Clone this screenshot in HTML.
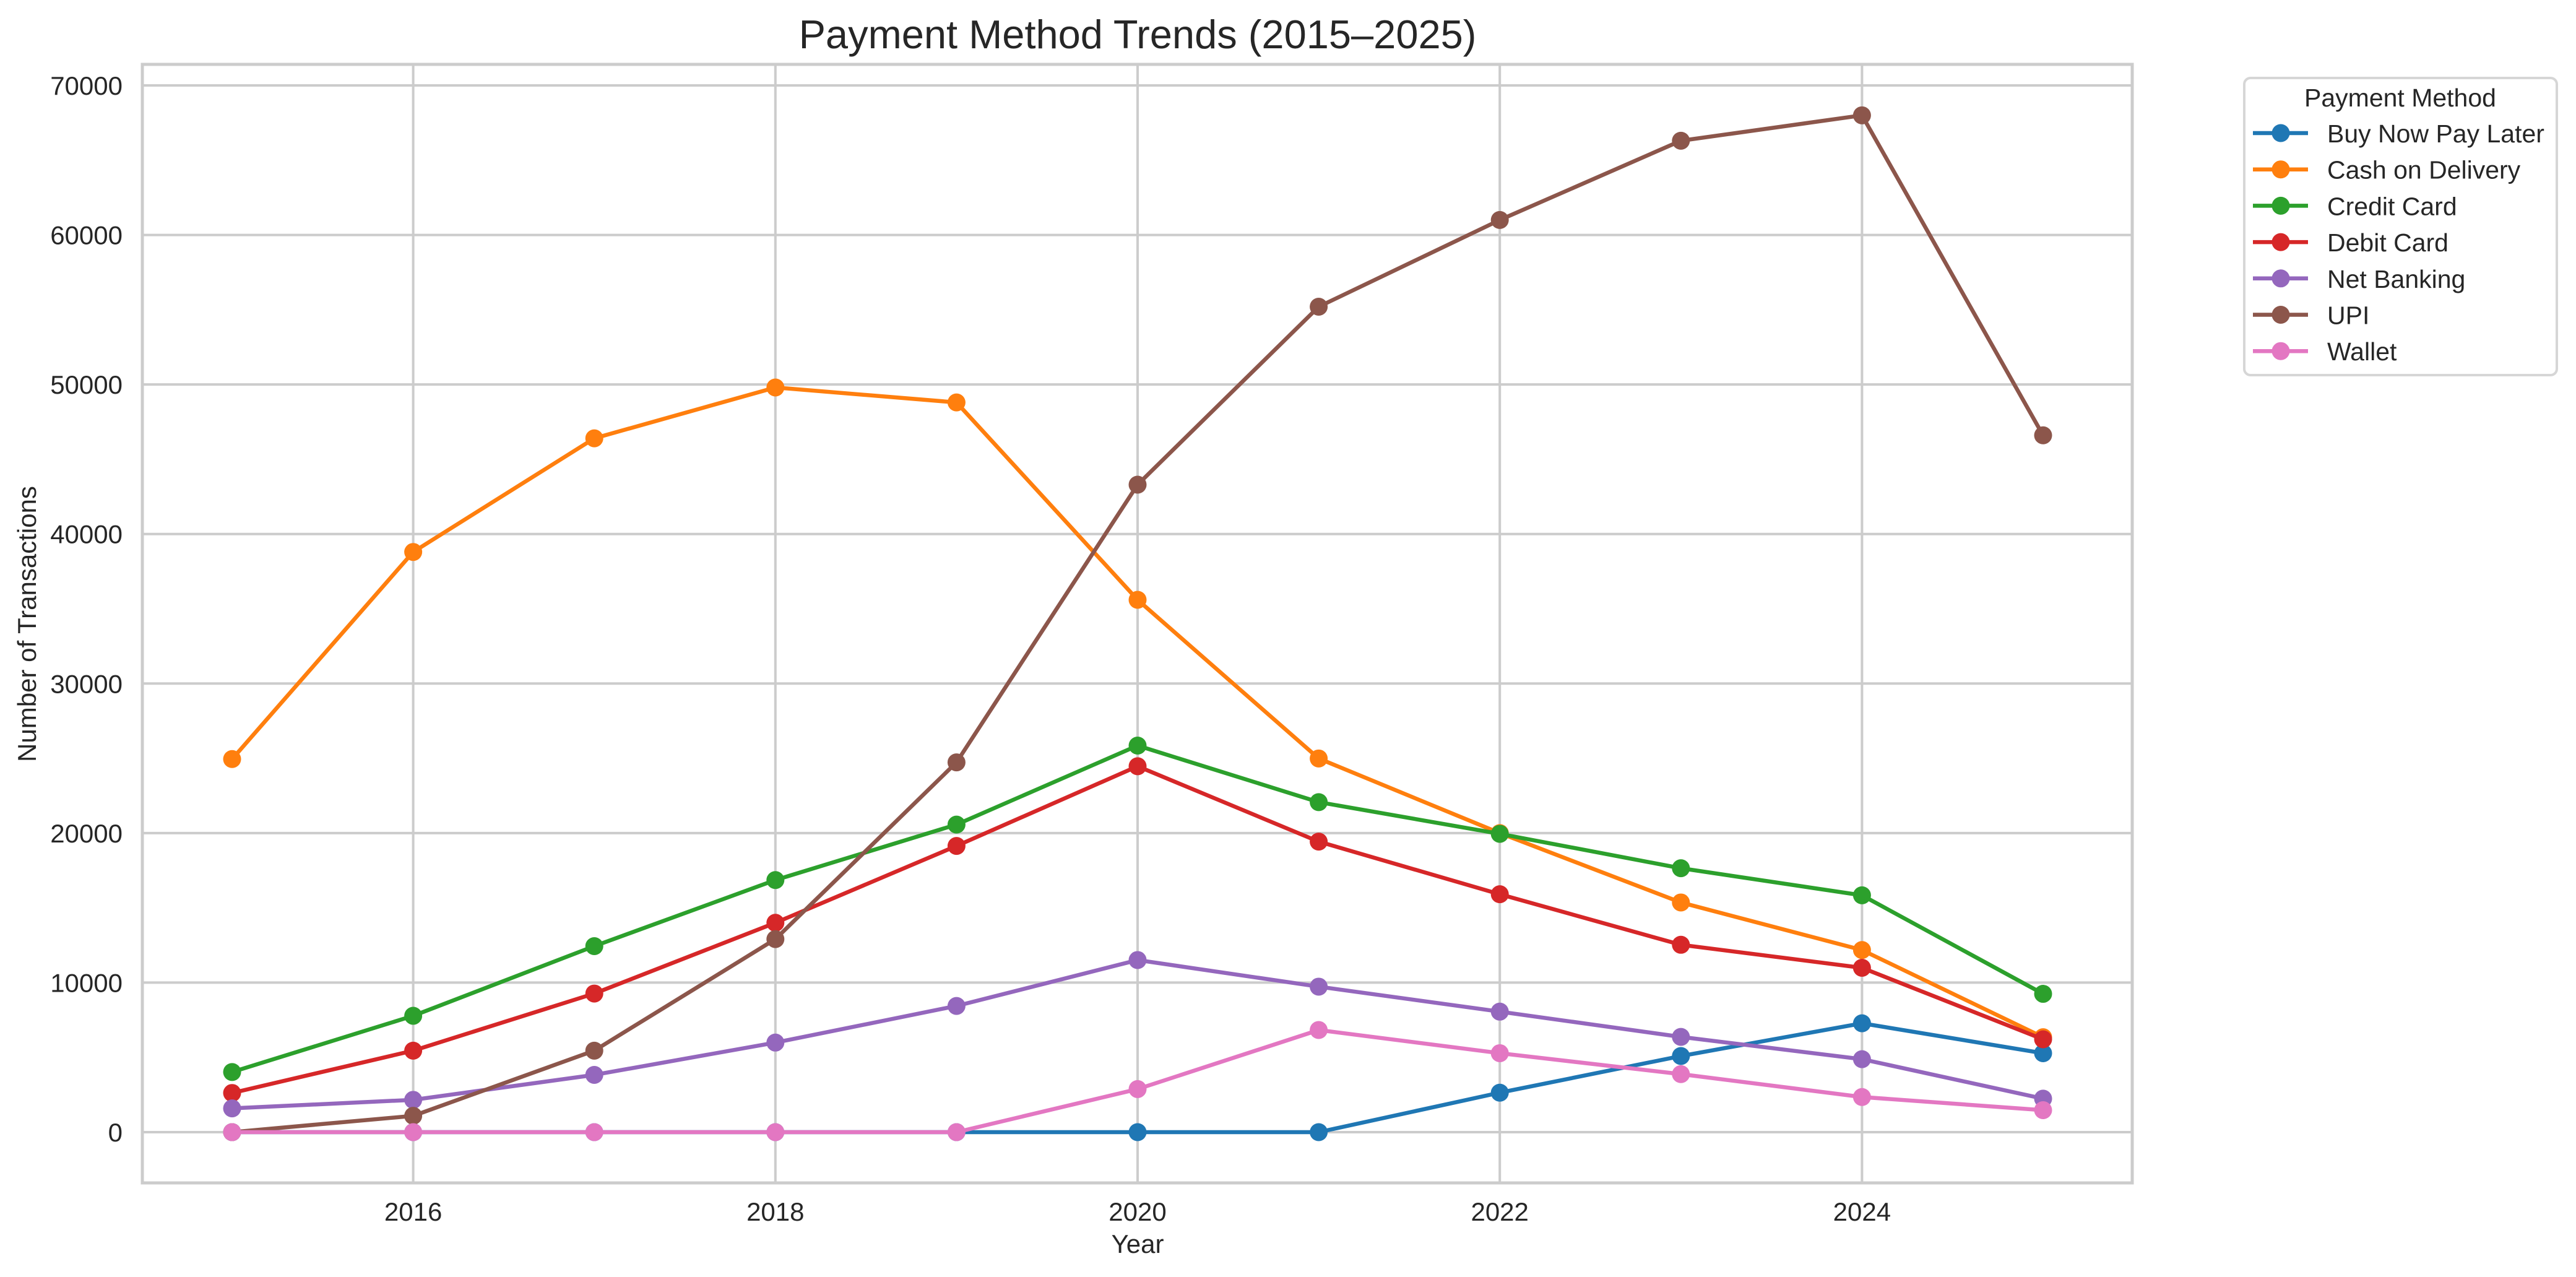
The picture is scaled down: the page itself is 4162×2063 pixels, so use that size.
<!DOCTYPE html>
<html><head><meta charset="utf-8"><style>
html,body{margin:0;padding:0;background:#fff;}
svg{display:block;font-family:"Liberation Sans",Arial,sans-serif;}
</style></head><body>
<svg id="chart" width="4162" height="2063" viewBox="0 0 4162 2063" xmlns="http://www.w3.org/2000/svg">
<rect width="4162" height="2063" fill="#fff"/>
<g id="grid"></g>
<g id="series"></g>
<rect x="230" y="104" width="3215" height="1807" fill="none" stroke="#cccccc" stroke-width="5"/>
<g id="ticks"></g>
<text x="1838" y="78" font-size="65" text-anchor="middle" fill="#262626">Payment Method Trends (2015–2025)</text>
<text x="1838" y="2024" font-size="42" text-anchor="middle" fill="#262626">Year</text>
<text x="58" y="1008" font-size="42" text-anchor="middle" fill="#262626" transform="rotate(-90 58 1008)">Number of Transactions</text>
<g id="legend">
<rect x="3626" y="126" width="505" height="480" rx="10" fill="#fff" stroke="#d6d6d6" stroke-width="4"/>
<text x="3878" y="172" font-size="41" text-anchor="middle" fill="#262626">Payment Method</text>
</g>
</svg>
<script>
const years = [2015,2016,2017,2018,2019,2020,2021,2022,2023,2024,2025];
const seriesNames = ["Buy Now Pay Later","Cash on Delivery","Credit Card","Debit Card","Net Banking","UPI","Wallet"];
const seriesColors = ["#1f77b4","#ff7f0e","#2ca02c","#d62728","#9467bd","#8c564b","#e377c2"];
const bnpl = [0,0,0,0,0,0,0,2640,5090,7280,5280];
const cod = [24950,38800,46400,49800,48800,35600,24990,20000,15360,12180,6350];
const credit = [4020,7780,12440,16860,20570,25850,22070,19950,17650,15840,9250];
const debit = [2620,5450,9270,14000,19140,24470,19430,15910,12530,10990,6210];
const netBanking = [1590,2160,3830,5990,8440,11510,9730,8060,6370,4880,2240];
const upi = [0,1090,5450,12910,24730,43300,55200,61000,66300,68000,46600];
const wallet = [0,0,0,0,0,2880,6830,5280,3880,2350,1470];
const yTicks = [0,10000,20000,30000,40000,50000,60000,70000];
const xTicks = [2016,2018,2020,2022,2024];

const NS = "http://www.w3.org/2000/svg";
const X0 = 375, XSTEP = 292.6, Y0 = 1829, YPX = 1691/70000;
function xs(v){ return X0 + (v - 2015) * XSTEP; }
function ys(v){ return Y0 - v * YPX; }
function mk(tag, attrs, parent){ const e = document.createElementNS(NS, tag); for (const k in attrs) e.setAttribute(k, attrs[k]); parent.appendChild(e); return e; }

const grid = document.getElementById('grid');
const ticks = document.getElementById('ticks');
yTicks.forEach(t => {
  const l = mk('line', {x1:230, x2:3445, y1:ys(t), y2:ys(t), stroke:'#cccccc', 'stroke-width':4}, grid);
  
  
  const tx = mk('text', {x:198, y:ys(t)+15, 'font-size':42, 'text-anchor':'end', fill:'#262626'}, ticks);
  tx.textContent = String(t);
  
  
});
xTicks.forEach(t => {
  const l = mk('line', {x1:xs(t), x2:xs(t), y1:104, y2:1911, stroke:'#cccccc', 'stroke-width':4}, grid);
  
  
  const tx = mk('text', {x:xs(t), y:1972, 'font-size':42, 'text-anchor':'middle', fill:'#262626'}, ticks);
  tx.textContent = String(t);
  
  
});

const allSeries = [bnpl, cod, credit, debit, netBanking, upi, wallet];
const sg = document.getElementById('series');
allSeries.forEach((vals, i) => {
  const g = mk('g', {}, sg);
  
  
  const pts = vals.map((v, j) => xs(years[j]) + ',' + ys(v)).join(' ');
  const pl = mk('polyline', {points:pts, fill:'none', stroke:seriesColors[i], 'stroke-width':6.5, 'stroke-linejoin':'round', 'stroke-linecap':'square'}, g);
  
  
  vals.forEach((v, j) => {
    const c = mk('circle', {cx:xs(years[j]), cy:ys(v), r:14.5, fill:seriesColors[i]}, g);
    
    
  });
});

const lg = document.getElementById('legend');
seriesNames.forEach((n, i) => {
  const y = 215 + i * 58.7;
  const g = mk('g', {}, lg);
  
  
  mk('line', {x1:3640, x2:3729, y1:y, y2:y, stroke:seriesColors[i], 'stroke-width':6.5}, g);
  mk('circle', {cx:3685, cy:y, r:14.5, fill:seriesColors[i]}, g);
  const t = mk('text', {x:3760, y:y+15, 'font-size':41, fill:'#262626'}, g);
  t.textContent = n;
});
</script>
</body></html>
